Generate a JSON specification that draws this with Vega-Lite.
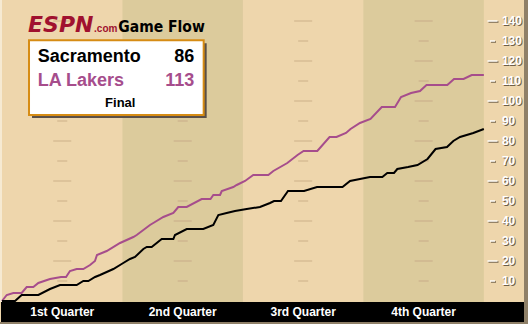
{
  "$schema": "https://vega.github.io/schema/vega-lite/v6.json",
  "width": 524,
  "height": 322,
  "autosize": {"type": "none"},
  "padding": {"left": 0, "top": 0, "right": 4, "bottom": 2},
  "background": "#8F8068",
  "config": {"view": {"stroke": null, "fill": "#EED6AC"}},
  "datasets": {
    "quarters": [
      {"quarter": "1st Quarter", "start": 0, "end": 12, "mid": 6},
      {"quarter": "2nd Quarter", "start": 12, "end": 24, "mid": 18},
      {"quarter": "3rd Quarter", "start": 24, "end": 36, "mid": 30},
      {"quarter": "4th Quarter", "start": 36, "end": 48, "mid": 42}
    ],
    "levels": [
      {"v": 10, "kind": "minor"}, {"v": 20, "kind": "major"}, {"v": 30, "kind": "minor"}, {"v": 40, "kind": "major"},
      {"v": 50, "kind": "minor"}, {"v": 60, "kind": "major"}, {"v": 70, "kind": "minor"}, {"v": 80, "kind": "major"},
      {"v": 90, "kind": "minor"}, {"v": 100, "kind": "major"}, {"v": 110, "kind": "minor"}, {"v": 120, "kind": "major"},
      {"v": 130, "kind": "minor"}, {"v": 140, "kind": "major"}
    ],
    "flow": [
      {"team": "LA Lakers", "t": 0, "score": 0}, {"team": "LA Lakers", "t": 0.47, "score": 3}, {"team": "LA Lakers", "t": 1.13, "score": 4},
      {"team": "LA Lakers", "t": 1.96, "score": 4}, {"team": "LA Lakers", "t": 2.46, "score": 7}, {"team": "LA Lakers", "t": 3.12, "score": 7},
      {"team": "LA Lakers", "t": 3.62, "score": 9}, {"team": "LA Lakers", "t": 4.78, "score": 11}, {"team": "LA Lakers", "t": 5.88, "score": 12},
      {"team": "LA Lakers", "t": 6.38, "score": 12}, {"team": "LA Lakers", "t": 6.77, "score": 15}, {"team": "LA Lakers", "t": 7.44, "score": 16},
      {"team": "LA Lakers", "t": 8.1, "score": 16}, {"team": "LA Lakers", "t": 8.77, "score": 18}, {"team": "LA Lakers", "t": 9.26, "score": 20},
      {"team": "LA Lakers", "t": 9.46, "score": 23}, {"team": "LA Lakers", "t": 10.43, "score": 25}, {"team": "LA Lakers", "t": 11.76, "score": 29},
      {"team": "LA Lakers", "t": 13.08, "score": 32}, {"team": "LA Lakers", "t": 13.42, "score": 33}, {"team": "LA Lakers", "t": 14.74, "score": 38},
      {"team": "LA Lakers", "t": 15.07, "score": 39}, {"team": "LA Lakers", "t": 16.07, "score": 42}, {"team": "LA Lakers", "t": 17.07, "score": 44},
      {"team": "LA Lakers", "t": 17.56, "score": 47}, {"team": "LA Lakers", "t": 18.4, "score": 47}, {"team": "LA Lakers", "t": 19.89, "score": 51},
      {"team": "LA Lakers", "t": 20.77, "score": 51}, {"team": "LA Lakers", "t": 21.05, "score": 53}, {"team": "LA Lakers", "t": 21.72, "score": 53},
      {"team": "LA Lakers", "t": 21.89, "score": 55}, {"team": "LA Lakers", "t": 23.04, "score": 57}, {"team": "LA Lakers", "t": 23.38, "score": 58},
      {"team": "LA Lakers", "t": 24.21, "score": 60}, {"team": "LA Lakers", "t": 25.03, "score": 63}, {"team": "LA Lakers", "t": 26.53, "score": 63},
      {"team": "LA Lakers", "t": 27.03, "score": 65}, {"team": "LA Lakers", "t": 28.42, "score": 69}, {"team": "LA Lakers", "t": 29.44, "score": 73},
      {"team": "LA Lakers", "t": 30.04, "score": 75}, {"team": "LA Lakers", "t": 31.41, "score": 75}, {"team": "LA Lakers", "t": 32.63, "score": 82},
      {"team": "LA Lakers", "t": 33.32, "score": 82}, {"team": "LA Lakers", "t": 34.27, "score": 84}, {"team": "LA Lakers", "t": 34.72, "score": 86},
      {"team": "LA Lakers", "t": 35.66, "score": 89}, {"team": "LA Lakers", "t": 36.71, "score": 91}, {"team": "LA Lakers", "t": 37.83, "score": 97},
      {"team": "LA Lakers", "t": 39.15, "score": 97}, {"team": "LA Lakers", "t": 39.75, "score": 102}, {"team": "LA Lakers", "t": 40.75, "score": 104},
      {"team": "LA Lakers", "t": 41.64, "score": 105}, {"team": "LA Lakers", "t": 42.29, "score": 108}, {"team": "LA Lakers", "t": 44.36, "score": 108},
      {"team": "LA Lakers", "t": 45.03, "score": 111}, {"team": "LA Lakers", "t": 45.98, "score": 111}, {"team": "LA Lakers", "t": 46.79, "score": 113},
      {"team": "LA Lakers", "t": 48, "score": 113},
      {"team": "Sacramento", "t": 0, "score": 0}, {"team": "Sacramento", "t": 1.3, "score": 0}, {"team": "Sacramento", "t": 1.96, "score": 3},
      {"team": "Sacramento", "t": 3.62, "score": 3}, {"team": "Sacramento", "t": 4.78, "score": 6}, {"team": "Sacramento", "t": 5.78, "score": 8},
      {"team": "Sacramento", "t": 7.44, "score": 8}, {"team": "Sacramento", "t": 8.1, "score": 10}, {"team": "Sacramento", "t": 8.6, "score": 10},
      {"team": "Sacramento", "t": 9.27, "score": 12}, {"team": "Sacramento", "t": 9.76, "score": 13}, {"team": "Sacramento", "t": 11.09, "score": 16},
      {"team": "Sacramento", "t": 12.08, "score": 19}, {"team": "Sacramento", "t": 12.75, "score": 21}, {"team": "Sacramento", "t": 13.25, "score": 22},
      {"team": "Sacramento", "t": 14.08, "score": 26}, {"team": "Sacramento", "t": 14.42, "score": 27}, {"team": "Sacramento", "t": 14.91, "score": 27},
      {"team": "Sacramento", "t": 15.91, "score": 31}, {"team": "Sacramento", "t": 17.07, "score": 31}, {"team": "Sacramento", "t": 17.23, "score": 33},
      {"team": "Sacramento", "t": 18.4, "score": 36}, {"team": "Sacramento", "t": 20.05, "score": 36}, {"team": "Sacramento", "t": 21.05, "score": 38},
      {"team": "Sacramento", "t": 21.55, "score": 43}, {"team": "Sacramento", "t": 22.38, "score": 44}, {"team": "Sacramento", "t": 23.21, "score": 45},
      {"team": "Sacramento", "t": 24.38, "score": 46}, {"team": "Sacramento", "t": 25.7, "score": 47}, {"team": "Sacramento", "t": 26.7, "score": 49},
      {"team": "Sacramento", "t": 27.1, "score": 50}, {"team": "Sacramento", "t": 27.79, "score": 50}, {"team": "Sacramento", "t": 28.49, "score": 55},
      {"team": "Sacramento", "t": 30.09, "score": 55}, {"team": "Sacramento", "t": 31.38, "score": 57}, {"team": "Sacramento", "t": 33.92, "score": 57},
      {"team": "Sacramento", "t": 34.67, "score": 60}, {"team": "Sacramento", "t": 35.66, "score": 61}, {"team": "Sacramento", "t": 36.66, "score": 62},
      {"team": "Sacramento", "t": 37.89, "score": 62}, {"team": "Sacramento", "t": 38.38, "score": 64}, {"team": "Sacramento", "t": 39.05, "score": 64},
      {"team": "Sacramento", "t": 39.38, "score": 66}, {"team": "Sacramento", "t": 40.45, "score": 67}, {"team": "Sacramento", "t": 41.39, "score": 68},
      {"team": "Sacramento", "t": 42.39, "score": 71}, {"team": "Sacramento", "t": 43.19, "score": 76}, {"team": "Sacramento", "t": 44.33, "score": 77},
      {"team": "Sacramento", "t": 44.96, "score": 80}, {"team": "Sacramento", "t": 45.63, "score": 82}, {"team": "Sacramento", "t": 46.95, "score": 84},
      {"team": "Sacramento", "t": 48, "score": 86}
    ]
  },
  "layer": [
    {
      "data": {"values": [{}]},
      "mark": {"type": "rect", "color": "#F6EAD2"},
      "encoding": {
        "x": {"datum": -0.2, "type": "quantitative", "scale": {"domain": [-0.2, 52], "nice": false, "zero": false}, "axis": null},
        "x2": {"datum": 0},
        "y": {"datum": -0.5, "type": "quantitative", "scale": {"domain": [-10.5, 150.5], "nice": false, "zero": false}, "axis": null},
        "y2": {"datum": 150.5}
      }
    },
    {
      "data": {"name": "quarters"},
      "mark": {"type": "rect"},
      "encoding": {
        "x": {"field": "start", "type": "quantitative", "scale": {"domain": [-0.2, 52], "nice": false, "zero": false}, "axis": null},
        "x2": {"field": "end"},
        "y": {"datum": -0.5, "type": "quantitative", "scale": {"domain": [-10.5, 150.5], "nice": false, "zero": false}, "axis": null},
        "y2": {"datum": 150.5},
        "color": {"field": "quarter", "type": "nominal", "scale": {"domain": ["1st Quarter", "2nd Quarter", "3rd Quarter", "4th Quarter"], "range": ["#EED6AC", "#DCCB9C", "#EED6AC", "#DCCB9C"]}, "legend": null}
      }
    },
    {
      "data": {"name": "levels"},
      "mark": {"type": "tick", "orient": "horizontal", "thickness": 2, "color": "#D5BA93"},
      "encoding": {
        "x": {"datum": 6, "type": "quantitative", "scale": {"domain": [-0.2, 52], "nice": false, "zero": false}, "axis": null},
        "y": {"field": "v", "type": "quantitative", "scale": {"domain": [-10.5, 150.5], "nice": false, "zero": false}, "axis": null},
        "size": {"field": "kind", "type": "nominal", "scale": {"domain": ["major", "minor"], "range": [18, 10]}, "legend": null}
      }
    },
    {
      "data": {"name": "levels"},
      "mark": {"type": "tick", "orient": "horizontal", "thickness": 2, "color": "#CDB48E"},
      "encoding": {
        "x": {"datum": 18, "type": "quantitative", "scale": {"domain": [-0.2, 52], "nice": false, "zero": false}, "axis": null},
        "y": {"field": "v", "type": "quantitative", "scale": {"domain": [-10.5, 150.5], "nice": false, "zero": false}, "axis": null},
        "size": {"field": "kind", "type": "nominal", "scale": {"domain": ["major", "minor"], "range": [18, 10]}, "legend": null}
      }
    },
    {
      "data": {"name": "levels"},
      "mark": {"type": "tick", "orient": "horizontal", "thickness": 2, "color": "#D5BA93"},
      "encoding": {
        "x": {"datum": 30, "type": "quantitative", "scale": {"domain": [-0.2, 52], "nice": false, "zero": false}, "axis": null},
        "y": {"field": "v", "type": "quantitative", "scale": {"domain": [-10.5, 150.5], "nice": false, "zero": false}, "axis": null},
        "size": {"field": "kind", "type": "nominal", "scale": {"domain": ["major", "minor"], "range": [18, 10]}, "legend": null}
      }
    },
    {
      "data": {"name": "levels"},
      "mark": {"type": "tick", "orient": "horizontal", "thickness": 2, "color": "#CDB48E"},
      "encoding": {
        "x": {"datum": 42, "type": "quantitative", "scale": {"domain": [-0.2, 52], "nice": false, "zero": false}, "axis": null},
        "y": {"field": "v", "type": "quantitative", "scale": {"domain": [-10.5, 150.5], "nice": false, "zero": false}, "axis": null},
        "size": {"field": "kind", "type": "nominal", "scale": {"domain": ["major", "minor"], "range": [18, 10]}, "legend": null}
      }
    },
    {
      "data": {"values": [{}]},
      "mark": {"type": "rect", "color": "#000000"},
      "encoding": {
        "x": {"datum": -0.1, "type": "quantitative", "scale": {"domain": [-0.2, 52], "nice": false, "zero": false}, "axis": null},
        "x2": {"datum": 52},
        "y": {"datum": -10.5, "type": "quantitative", "scale": {"domain": [-10.5, 150.5], "nice": false, "zero": false}, "axis": null},
        "y2": {"datum": -0.5}
      }
    },
    {
      "data": {"name": "quarters"},
      "mark": {"type": "text", "color": "#FFFFFF", "font": "Liberation Sans", "fontWeight": "bold", "fontSize": 12, "align": "center", "baseline": "middle"},
      "encoding": {
        "x": {"field": "mid", "type": "quantitative", "scale": {"domain": [-0.2, 52], "nice": false, "zero": false}, "axis": null},
        "y": {"datum": -5.5, "type": "quantitative", "scale": {"domain": [-10.5, 150.5], "nice": false, "zero": false}, "axis": null},
        "text": {"field": "quarter"}
      }
    },
    {
      "data": {"name": "levels"},
      "mark": {"type": "tick", "orient": "horizontal", "thickness": 2, "color": "#6E5E48", "xOffset": 1, "yOffset": 1},
      "encoding": {
        "x": {"datum": 48.86, "type": "quantitative", "scale": {"domain": [-0.2, 52], "nice": false, "zero": false}, "axis": null},
        "y": {"field": "v", "type": "quantitative", "scale": {"domain": [-10.5, 150.5], "nice": false, "zero": false}, "axis": null},
        "size": {"field": "kind", "type": "nominal", "scale": {"domain": ["major", "minor"], "range": [10, 5]}, "legend": null}
      }
    },
    {
      "data": {"name": "levels"},
      "mark": {"type": "tick", "orient": "horizontal", "thickness": 2, "color": "#FFFFFF"},
      "encoding": {
        "x": {"datum": 48.86, "type": "quantitative", "scale": {"domain": [-0.2, 52], "nice": false, "zero": false}, "axis": null},
        "y": {"field": "v", "type": "quantitative", "scale": {"domain": [-10.5, 150.5], "nice": false, "zero": false}, "axis": null},
        "size": {"field": "kind", "type": "nominal", "scale": {"domain": ["major", "minor"], "range": [10, 5]}, "legend": null}
      }
    },
    {
      "data": {"name": "levels"},
      "mark": {"type": "text", "color": "#6E5E48", "font": "Liberation Sans", "fontWeight": "bold", "fontSize": 12, "align": "left", "baseline": "middle", "dx": 1, "dy": 1},
      "encoding": {
        "x": {"datum": 49.8, "type": "quantitative", "scale": {"domain": [-0.2, 52], "nice": false, "zero": false}, "axis": null},
        "y": {"field": "v", "type": "quantitative", "scale": {"domain": [-10.5, 150.5], "nice": false, "zero": false}, "axis": null},
        "text": {"field": "v", "type": "quantitative"}
      }
    },
    {
      "data": {"name": "levels"},
      "mark": {"type": "text", "color": "#FFFFFF", "font": "Liberation Sans", "fontWeight": "bold", "fontSize": 12, "align": "left", "baseline": "middle"},
      "encoding": {
        "x": {"datum": 49.8, "type": "quantitative", "scale": {"domain": [-0.2, 52], "nice": false, "zero": false}, "axis": null},
        "y": {"field": "v", "type": "quantitative", "scale": {"domain": [-10.5, 150.5], "nice": false, "zero": false}, "axis": null},
        "text": {"field": "v", "type": "quantitative"}
      }
    },
    {
      "data": {"name": "flow"},
      "mark": {"type": "line", "strokeWidth": 2, "interpolate": "linear"},
      "encoding": {
        "x": {"field": "t", "type": "quantitative", "scale": {"domain": [-0.2, 52], "nice": false, "zero": false}, "axis": null},
        "y": {"field": "score", "type": "quantitative", "scale": {"domain": [-10.5, 150.5], "nice": false, "zero": false}, "axis": null},
        "color": {"field": "team", "type": "nominal", "scale": {"domain": ["Sacramento", "LA Lakers"], "range": ["#000000", "#A64D8C"]}, "legend": null},
        "order": {"field": "t", "type": "quantitative"}
      }
    },
    {
      "data": {"values": [{}]},
      "mark": {"type": "rect", "color": "#5A5048", "xOffset": 3, "x2Offset": 3, "yOffset": 3, "y2Offset": 3},
      "encoding": {
        "x": {"datum": 2.69, "type": "quantitative", "scale": {"domain": [-0.2, 52], "nice": false, "zero": false}, "axis": null},
        "x2": {"datum": 20.09},
        "y": {"datum": 93, "type": "quantitative", "scale": {"domain": [-10.5, 150.5], "nice": false, "zero": false}, "axis": null},
        "y2": {"datum": 130.35}
      }
    },
    {
      "data": {"values": [{}]},
      "mark": {"type": "rect", "fill": "#FFFFFF", "stroke": "#D68C14", "strokeWidth": 2},
      "encoding": {
        "x": {"datum": 2.69, "type": "quantitative", "scale": {"domain": [-0.2, 52], "nice": false, "zero": false}, "axis": null},
        "x2": {"datum": 20.09},
        "y": {"datum": 93, "type": "quantitative", "scale": {"domain": [-10.5, 150.5], "nice": false, "zero": false}, "axis": null},
        "y2": {"datum": 130.35}
      }
    },
    {
      "data": {"values": [{}]},
      "mark": {"type": "text", "text": "Sacramento", "color": "#000000", "font": "Liberation Sans", "fontWeight": "bold", "fontSize": 18, "align": "left", "baseline": "alphabetic"},
      "encoding": {
        "x": {"datum": 3.56, "type": "quantitative", "scale": {"domain": [-0.2, 52], "nice": false, "zero": false}, "axis": null},
        "y": {"datum": 119.5, "type": "quantitative", "scale": {"domain": [-10.5, 150.5], "nice": false, "zero": false}, "axis": null}
      }
    },
    {
      "data": {"values": [{}]},
      "mark": {"type": "text", "text": "86", "color": "#000000", "font": "Liberation Sans", "fontWeight": "bold", "fontSize": 18, "align": "right", "baseline": "alphabetic"},
      "encoding": {
        "x": {"datum": 19.16, "type": "quantitative", "scale": {"domain": [-0.2, 52], "nice": false, "zero": false}, "axis": null},
        "y": {"datum": 119.5, "type": "quantitative", "scale": {"domain": [-10.5, 150.5], "nice": false, "zero": false}, "axis": null}
      }
    },
    {
      "data": {"values": [{}]},
      "mark": {"type": "text", "text": "LA Lakers", "color": "#A64D8C", "font": "Liberation Sans", "fontWeight": "bold", "fontSize": 18, "align": "left", "baseline": "alphabetic"},
      "encoding": {
        "x": {"datum": 3.56, "type": "quantitative", "scale": {"domain": [-0.2, 52], "nice": false, "zero": false}, "axis": null},
        "y": {"datum": 107.65, "type": "quantitative", "scale": {"domain": [-10.5, 150.5], "nice": false, "zero": false}, "axis": null}
      }
    },
    {
      "data": {"values": [{}]},
      "mark": {"type": "text", "text": "113", "color": "#A64D8C", "font": "Liberation Sans", "fontWeight": "bold", "fontSize": 18, "align": "right", "baseline": "alphabetic"},
      "encoding": {
        "x": {"datum": 19.16, "type": "quantitative", "scale": {"domain": [-0.2, 52], "nice": false, "zero": false}, "axis": null},
        "y": {"datum": 107.65, "type": "quantitative", "scale": {"domain": [-10.5, 150.5], "nice": false, "zero": false}, "axis": null}
      }
    },
    {
      "data": {"values": [{}]},
      "mark": {"type": "text", "text": "Final", "color": "#000000", "font": "Liberation Sans", "fontWeight": "bold", "fontSize": 13, "align": "center", "baseline": "alphabetic"},
      "encoding": {
        "x": {"datum": 11.78, "type": "quantitative", "scale": {"domain": [-0.2, 52], "nice": false, "zero": false}, "axis": null},
        "y": {"datum": 97.15, "type": "quantitative", "scale": {"domain": [-10.5, 150.5], "nice": false, "zero": false}, "axis": null}
      }
    },
    {
      "data": {"values": [{}]},
      "mark": {"type": "text", "text": "ESPN", "color": "#A0112F", "font": "DejaVu Sans", "fontWeight": "bold", "fontStyle": "italic", "fontSize": 22, "align": "left", "baseline": "alphabetic"},
      "encoding": {
        "x": {"datum": 2.59, "type": "quantitative", "scale": {"domain": [-0.2, 52], "nice": false, "zero": false}, "axis": null},
        "y": {"datum": 134.35, "type": "quantitative", "scale": {"domain": [-10.5, 150.5], "nice": false, "zero": false}, "axis": null}
      }
    },
    {
      "data": {"values": [{}]},
      "mark": {"type": "text", "text": ".com", "color": "#A0112F", "font": "Liberation Sans", "fontWeight": "bold", "fontSize": 10, "align": "left", "baseline": "alphabetic"},
      "encoding": {
        "x": {"datum": 9.17, "type": "quantitative", "scale": {"domain": [-0.2, 52], "nice": false, "zero": false}, "axis": null},
        "y": {"datum": 134.5, "type": "quantitative", "scale": {"domain": [-10.5, 150.5], "nice": false, "zero": false}, "axis": null}
      }
    },
    {
      "data": {"values": [{}]},
      "mark": {"type": "text", "text": "Game Flow", "color": "#000000", "font": "DejaVu Sans Condensed, Liberation Sans", "fontWeight": "bold", "fontSize": 15.5, "align": "left", "baseline": "alphabetic"},
      "encoding": {
        "x": {"datum": 11.59, "type": "quantitative", "scale": {"domain": [-0.2, 52], "nice": false, "zero": false}, "axis": null},
        "y": {"datum": 134.35, "type": "quantitative", "scale": {"domain": [-10.5, 150.5], "nice": false, "zero": false}, "axis": null}
      }
    }
  ],
  "resolve": {"scale": {"size": "independent", "color": "independent"}}
}
